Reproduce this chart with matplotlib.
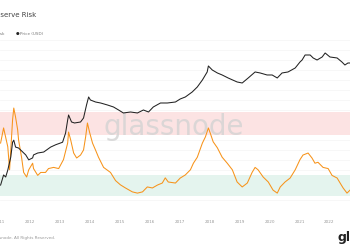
import numpy as np
import matplotlib
matplotlib.use('Agg')
import matplotlib.pyplot as plt

# decimal years, price in USD
price_years = [2011.02, 2011.12, 2011.19, 2011.26, 2011.36, 2011.42, 2011.46, 2011.52, 2011.62, 2011.76,
               2011.86, 2011.96, 2012.09, 2012.12, 2012.26, 2012.46, 2012.69, 2012.86, 2013.09, 2013.19,
               2013.26, 2013.29, 2013.39, 2013.49, 2013.69, 2013.79, 2013.89, 2013.96, 2014.02, 2014.19,
               2014.36, 2014.59, 2014.79, 2014.96, 2015.12, 2015.36, 2015.59, 2015.79, 2015.96, 2016.12,
               2016.36, 2016.59, 2016.86, 2017.02, 2017.19, 2017.42, 2017.59, 2017.76, 2017.92, 2017.96,
               2018.09, 2018.26, 2018.42, 2018.62, 2018.92, 2019.09, 2019.29, 2019.52, 2019.69, 2019.92,
               2020.09, 2020.26, 2020.42, 2020.62, 2020.86, 2021.02, 2021.09, 2021.19, 2021.36, 2021.46,
               2021.59, 2021.76, 2021.86, 2022.02, 2022.26, 2022.42, 2022.52, 2022.62, 2022.69]
price_usd = [0.45, 1.1, 0.92, 1.7, 5.4, 20, 24, 13, 12, 8.4,
             6.5, 4.2, 5.0, 6.5, 7.7, 8.4, 13, 16, 20, 45,
             143, 223, 120, 110, 120, 171, 541, 1100, 843, 706,
             646, 541, 454, 348, 267, 291, 267, 348, 291, 454,
             646, 646, 706, 922, 1100, 1713, 2667, 4960, 10080, 17130,
             12010, 9220, 7720, 5920, 4155, 3800, 5920, 10080, 9220, 7720,
             7720, 5920, 9220, 10080, 14350, 24400, 29100, 45300, 45300, 34800,
             29100, 38000, 54100, 38000, 34800, 24400, 18700, 22300, 22300]

# decimal years, reserve risk (orange line)
risk_years = [2011.02, 2011.12, 2011.26, 2011.32, 2011.42, 2011.46, 2011.52, 2011.59, 2011.62, 2011.72,
              2011.79, 2011.89, 2011.96, 2012.09, 2012.12, 2012.26, 2012.36, 2012.52, 2012.62, 2012.79,
              2012.96, 2013.12, 2013.26, 2013.29, 2013.36, 2013.46, 2013.56, 2013.69, 2013.79, 2013.86,
              2013.92, 2013.99, 2014.09, 2014.19, 2014.29, 2014.46, 2014.69, 2014.86, 2015.02, 2015.19,
              2015.42, 2015.59, 2015.76, 2015.92, 2016.09, 2016.26, 2016.42, 2016.52, 2016.62, 2016.86,
              2017.02, 2017.19, 2017.36, 2017.46, 2017.59, 2017.76, 2017.86, 2017.96, 2018.02, 2018.12,
              2018.26, 2018.42, 2018.59, 2018.76, 2018.92, 2019.09, 2019.26, 2019.42, 2019.52, 2019.62,
              2019.79, 2019.96, 2020.12, 2020.26, 2020.36, 2020.52, 2020.69, 2020.86, 2021.02, 2021.12,
              2021.29, 2021.42, 2021.52, 2021.62, 2021.79, 2021.96, 2022.09, 2022.26, 2022.36, 2022.46,
              2022.59, 2022.69]
reserve_risk = [0.0058, 0.0106, 0.0050, 0.0020, 0.0146, 0.0234, 0.0163, 0.0098, 0.0066, 0.0033,
                0.0018, 0.0015, 0.0020, 0.0026, 0.0021, 0.0016, 0.0018, 0.0018, 0.0021, 0.0022,
                0.0021, 0.0030, 0.0058, 0.0090, 0.0066, 0.0039, 0.0032, 0.0036, 0.0044, 0.0074,
                0.0129, 0.0090, 0.0058, 0.0044, 0.0033, 0.0022, 0.0018, 0.0013, 0.0011, 0.00097,
                0.00083, 0.00079, 0.00083, 0.00101, 0.00097, 0.00109, 0.00118, 0.00145, 0.00123, 0.00118,
                0.00144, 0.00163, 0.0020, 0.0026, 0.0033, 0.0058, 0.0074, 0.0106, 0.0087, 0.0061,
                0.0048, 0.0033, 0.0026, 0.0020, 0.00123, 0.00101, 0.00118, 0.0018, 0.0022, 0.0020,
                0.0015, 0.00123, 0.00089, 0.00079, 0.00101, 0.00123, 0.00144, 0.0020, 0.0030, 0.0036,
                0.0039, 0.0032, 0.0026, 0.0027, 0.0022, 0.0021, 0.0016, 0.00144, 0.00118, 0.00097,
                0.00079, 0.00089]

# risk bands
high_band = (0.008, 0.02)
low_band = (0.0007, 0.0016)

year_ticks = list(range(2011, 2023))
year_labels = [str(y) for y in year_ticks]

fig = plt.figure(figsize=(3.5, 2.5), dpi=100)
fig.patch.set_facecolor('white')

# risk axis at the bottom of the stack, price axis on top of it
ax = fig.add_axes([0, 0.18, 1, 0.66])
ax2 = ax.twinx()

# grid lines
for f in np.arange(0, 1.0, 10 / 165):
    ax.plot([0, 1], [1 - f, 1 - f], color='#f4f4f4', lw=0.5, zorder=0, transform=ax.transAxes)

ax.axhspan(*high_band, color='#fce3e3', lw=0, zorder=1)
ax.axhspan(*low_band, color='#e4f4ee', lw=0, zorder=1)

ax.text(0.497, 0.47, 'glassnode', transform=ax.transAxes, ha='center', va='center',
        fontsize=20, color='#d3d3d3', alpha=0.8, zorder=2)

ax.plot(risk_years, reserve_risk, color='#f7931a', lw=0.75, zorder=5)
ax2.plot(price_years, price_usd, color='#222222', lw=0.75, zorder=5)

ax.set_yscale('log')
ax2.set_yscale('log')
ax.set_ylim(0.000492, 0.352)
ax2.set_ylim(0.0771, 171000)
ax.set_xlim(2011.023, 2022.69)

for a in (ax, ax2):
    for s in a.spines.values():
        s.set_visible(False)
    a.set_yticks([])
    a.yaxis.set_minor_locator(matplotlib.ticker.NullLocator())
ax2.patch.set_visible(False)

ax.set_xticks(year_ticks)
ax.set_xticklabels(year_labels)
ax.tick_params(axis='x', length=0, pad=10.5, labelsize=3, labelcolor='#999999')

# title, legend, footer (cropped like the reference)
fig.text(36 / 350, 1 - 15 / 250, 'Bitcoin: Reserve Risk', ha='right', va='center',
         fontsize=5, color='#444444')
fig.text(4 / 350, 1 - 34 / 250, 'Reserve Risk', ha='right', va='center', fontsize=3, color='#777777')
fig.text(15.5 / 350, 1 - 34 / 250, '●', ha='left', va='center', fontsize=3, color='#222222')
fig.text(20 / 350, 1 - 34 / 250, 'Price (USD)', ha='left', va='center', fontsize=3, color='#777777')
fig.text(55 / 350, 1 - 238 / 250, '© 2022 Glassnode. All Rights Reserved.', ha='right', va='center',
         fontsize=3, color='#999999')
fig.text(337 / 350, 1 - 238 / 250, 'glassnode', ha='left', va='center', fontsize=9,
         fontweight='bold', color='#222222')

fig.savefig('out.png', dpi=100)
